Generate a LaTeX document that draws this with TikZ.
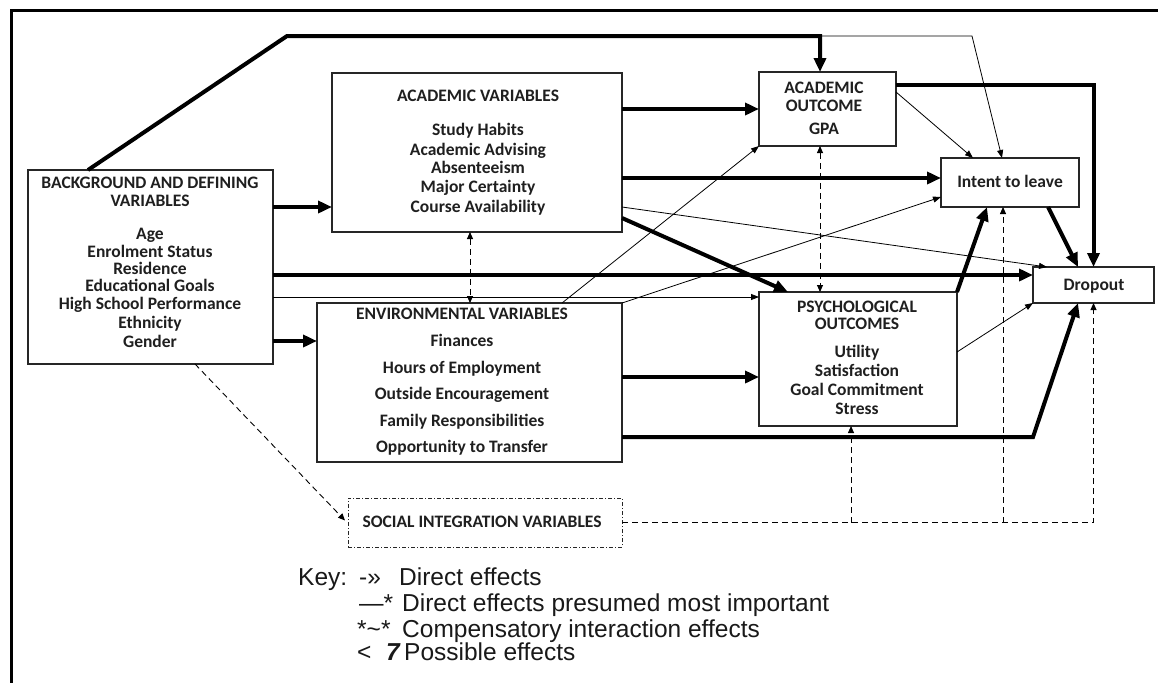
\documentclass[tikz,border=0pt]{standalone}
\usepackage{fontspec}
\setmainfont{Liberation Sans}
\newfontfamily\boxfnt{Carlito}
\usetikzlibrary{arrows.meta,calc}
\begin{document}
\begin{tikzpicture}[x=1pt,y=-1pt,
  box/.style={draw=black!85, line width=1.3pt, inner sep=0pt, outer sep=0pt, rectangle},
  sbox/.style={draw=black!85, line width=1pt, dash pattern=on 4pt off 2pt on 1pt off 2pt, inner sep=0pt, outer sep=0pt, rectangle},
  thk/.style={line width=4pt, line join=miter, -{Triangle[length=14pt,width=12pt]}},
  thn/.style={line width=0.8pt, -{Triangle[length=8pt,width=6pt]}},
  dsh/.style={line width=0.9pt, dash pattern=on 6pt off 4pt, -{Triangle[length=7pt,width=6pt]}},
  dsh2/.style={line width=0.9pt, dash pattern=on 6pt off 4pt, {Triangle[length=7pt,width=6pt]}-{Triangle[length=7pt,width=6pt]}},
  bt/.style={font=\boxfnt\bfseries\fontsize{17.5}{17.5}\selectfont, text=black!88, anchor=base, inner sep=0pt},
  kt/.style={font=\fontsize{24.5}{24.5}\selectfont, text=black!90, anchor=base west, inner sep=0pt}]
\useasboundingbox (0,0) rectangle (1158,683);
\fill[white] (0,0) rectangle (1158,683);
% frame
\draw[line width=3pt] (1158,10) -- (11,10) -- (11,683);

% boxes
\node[box, minimum width=245pt, minimum height=194pt] (bg)  at (150.5,267) {};
\node[box, minimum width=290pt, minimum height=159pt] (acv) at (477,152.5) {};
\node[box, minimum width=305pt, minimum height=159pt] (env) at (469.5,382.5) {};
\node[sbox, minimum width=274pt, minimum height=49pt] (soc) at (485,522.5) {};
\node[box, minimum width=137pt, minimum height=74pt] (aco) at (827.5,109) {};
\node[box, minimum width=138pt, minimum height=49pt] (itl) at (1010,182.5) {};
\node[box, minimum width=121pt, minimum height=36pt] (dro) at (1093.5,285) {};
\node[box, minimum width=198pt, minimum height=134pt] (psy) at (858,359) {};

% texts
\foreach \t/\yy [count=\i] in {BACKGROUND AND DEFINING/188, VARIABLES/206, Age/239, Enrolment Status/257, Residence/274, Educational Goals/291, High School Performance/309, Ethnicity/328, Gender/347}
  \node[bt] (bgt\i) at (150,\yy) {\t};
\foreach \t/\yy [count=\i] in {ACADEMIC VARIABLES/101, Study Habits/135, Academic Advising/155, Absenteeism/173, Major Certainty/192, Course Availability/212}
  \node[bt] (acvt\i) at (478,\yy) {\t};
\foreach \t/\yy [count=\i] in {ENVIRONMENTAL VARIABLES/319, Finances/346, Hours of Employment/373, Outside Encouragement/399, Family Responsibilities/426, Opportunity to Transfer/452}
  \node[bt] (envt\i) at (462,\yy) {\t};
\node[bt] (soct) at (482,527) {SOCIAL INTEGRATION VARIABLES};
\foreach \t/\yy [count=\i] in {ACADEMIC/93, OUTCOME/111, GPA/134}
  \node[bt] (acot\i) at (824,\yy) {\t};
\node[bt] (itlt) at (1010,187) {Intent to leave};
\node[bt] (drot) at (1094,290) {Dropout};
\foreach \t/\yy [count=\i] in {PSYCHOLOGICAL/312, OUTCOMES/329, Utility/357, Satisfaction/376, Goal Commitment/395, Stress/414}
  \node[bt] (psyt\i) at (857,\yy) {\t};

% connectors
\coordinate (k1) at (287,36);
\coordinate (k2) at (820,36);
\coordinate (k3) at (972,36);
\draw[thk] ($(bg.north west)+(60,0)$) -- (k1) -- (k2) -- (k2 |- aco.north);
\draw[thn] (k2) -- (k3) -- ($(itl.north west)+(61,0)$);
\draw[thk] ($(bg.north east)+(0,37)$) coordinate (a1) -- (a1 -| acv.west);
\draw[thk] ($(bg.north east)+(0,105)$) coordinate (a2) -- (a2 -| dro.west);
\draw[thn] ($(bg.north east)+(0,127)$) coordinate (a3) -- (a3 -| psy.west);
\draw[thk] ($(bg.north east)+(0,171)$) coordinate (a4) -- (a4 -| env.west);
\draw[dsh] ($(bg.south west)+(167,0)$) -- ($(soc.west)+(-3,-2)$);
\draw[thk] ($(acv.north east)+(0,36)$) coordinate (b1) -- (b1 -| aco.west);
\draw[thk] ($(acv.north east)+(0,105)$) coordinate (b2) -- (b2 -| itl.west);
\draw[thn] ($(acv.north east)+(0,134)$) -- ($(dro.north west)+(14,0)$);
\draw[thk] ($(acv.north east)+(0,145)$) -- ($(psy.north west)+(29,0)$);
\draw[dsh2] ($(acv.south west)+(138,0)$) coordinate (b3) -- (b3 |- env.north);
\draw[thn] ($(env.north west)+(245,0)$) -- (aco.south west);
\draw[thn] (env.north east) -- ($(itl.south west)+(0,-10)$);
\draw[thk] ($(env.north east)+(0,74)$) coordinate (c1) -- (c1 -| psy.west);
\draw[thk] ($(env.north east)+(0,134)$) coordinate (c2) -- (c2 -| dro.west) -- ($(dro.south west)+(45,0)$);
\draw[dsh2] ($(aco.south west)+(61,0)$) coordinate (d1) -- (d1 |- psy.north);
\draw[thk] ($(aco.north east)+(0,13)$) coordinate (d2) -- (d2 -| dro.north) -- (dro.north);
\draw[thn] ($(aco.north east)+(0,20)$) -- ($(itl.north west)+(32,0)$);
\draw[thk] ($(itl.south west)+(107,0)$) -- ($(dro.north west)+(45,0)$);
\draw[thk] (psy.north east) -- ($(itl.south west)+(46,0)$);
\draw[thn] ($(psy.north east)+(0,60)$) -- (dro.south west);
\path ($(psy.south west)+(92,0)$) coordinate (pa);
\path ($(itl.south west)+(62,0)$) coordinate (ia);
\draw[dsh] (soc.east) -- (soc.east -| dro.south) -- (dro.south);
\draw[dsh] (pa |- soc.east) -- (pa);
\draw[dsh] (ia |- soc.east) -- (ia);

% key
\node[kt] (key0) at (298,585) {Key:};
\node[kt] (key1s) at (359,585) {-»};
\node[kt] (key1) at (399,585) {Direct effects};
\node[kt] (key2s) at (359,611) {—*};
\node[kt] (key2) at (402,611) {Direct effects presumed most important};
\node[kt] (key3s) at (357,637) {*\char`\~*};
\node[kt] (key3) at (402,637) {Compensatory interaction effects};
\node[kt] (key4s) at (357,660) {<};
\node[kt] (key4n) at (386,660) {\bfseries\itshape 7};
\node[kt] (key4) at (404,660) {Possible effects};
\end{tikzpicture}
\end{document}
